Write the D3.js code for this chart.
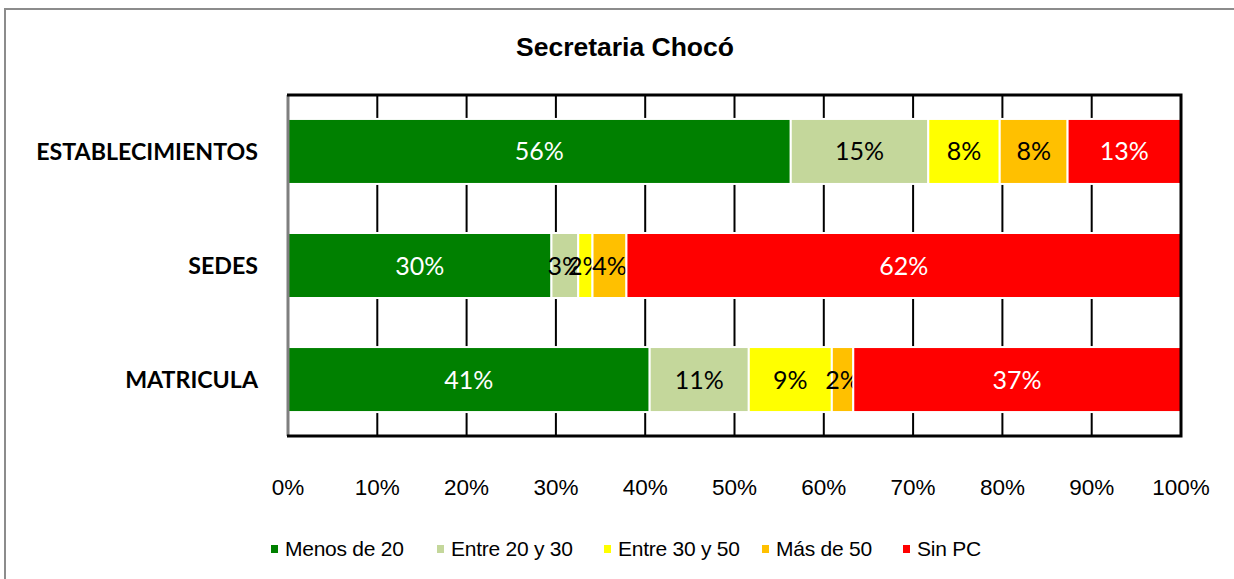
<!DOCTYPE html>
<html>
<head>
<meta charset="utf-8">
<script src="https://cdn.jsdelivr.net/npm/d3@7"></script>
<style>
  body { margin: 0; background: #fff; }
  svg { display: block; }
</style>
</head>
<body>
<div id="chart"></div>
<script>
// chart data
const categories = ["ESTABLECIMIENTOS", "SEDES", "MATRICULA"];
const seriesNames = ["Menos de 20", "Entre 20 y 30", "Entre 30 y 50", "Más de 50", "Sin PC"];
const menos20 = [56.3, 29.5, 40.5];
const entre20y30 = [15.4, 3.0, 11.1];
const entre30y50 = [8.0, 1.6, 9.3];
const mas50 = [7.6, 3.8, 2.4];
const sinPC = [12.7, 62.1, 36.7];
const xTicks = [0, 10, 20, 30, 40, 50, 60, 70, 80, 90, 100];

const colors = ["#008000", "#c4d79b", "#ffff00", "#ffc000", "#ff0000"];
const labelColors = ["#fff", "#000", "#000", "#000", "#fff"];

const width = 1234;
const height = 579;
const margin = {left: 288, right: 53, top: 95, bottom: 143};

const svg = d3.select("#chart")
  .append("svg")
  .attr("width", width)
  .attr("height", height);

// outer frame
svg.append("rect")
  .attr("x", 5).attr("y", 9)
  .attr("width", width + 10).attr("height", height + 10)
  .attr("fill", "none")
  .attr("stroke", "#8c8c8c")
  .attr("stroke-width", 2);

// build a table for the stack
const table = categories.map((c, i) => ({
  cat: c,
  "Menos de 20": menos20[i],
  "Entre 20 y 30": entre20y30[i],
  "Entre 30 y 50": entre30y50[i],
  "Más de 50": mas50[i],
  "Sin PC": sinPC[i]
}));

const stack = d3.stack().keys(seriesNames)(table);

const xScale = d3.scaleLinear()
  .domain([0, 100])
  .range([margin.left, width - margin.right]);

const yScale = d3.scaleBand()
  .domain(categories)
  .range([margin.top, height - margin.bottom])
  .paddingInner(0.43)
  .paddingOuter(0.21);

const plotTop = margin.top;
const plotBottom = height - margin.bottom;

// vertical gridlines
svg.append("g")
  .selectAll("line")
  .data(xTicks)
  .enter()
  .append("line")
    .attr("x1", d => xScale(d))
    .attr("x2", d => xScale(d))
    .attr("y1", plotTop)
    .attr("y2", plotBottom)
    .attr("stroke", "#000")
    .attr("stroke-width", 2);

// bars
const groups = svg.append("g")
  .selectAll("g")
  .data(stack)
  .enter()
  .append("g")
    .attr("fill", (d, i) => colors[i]);

groups.selectAll("rect")
  .data(d => d)
  .enter()
  .append("rect")
    .attr("x", d => xScale(d[0]))
    .attr("y", d => yScale(d.data.cat))
    .attr("width", d => xScale(d[1]) - xScale(d[0]))
    .attr("height", yScale.bandwidth())
    .attr("stroke", "#fff")
    .attr("stroke-width", 2);

// value labels
const fmt = d3.format(".0f");
groups.each(function(s, si) {
  d3.select(this).selectAll("text")
    .data(s)
    .enter()
    .append("text")
      .attr("x", d => (xScale(d[0]) + xScale(d[1])) / 2)
      .attr("y", d => yScale(d.data.cat) + yScale.bandwidth() / 2)
      .attr("dy", "0.36em")
      .attr("text-anchor", "middle")
      .attr("fill", labelColors[si])
      .attr("font-family", "Lato, 'Noto Sans', sans-serif")
      .attr("font-size", "25px")
      .text(d => fmt(d[1] - d[0]) + "%");
});

// plot frame
const frame = svg.append("g").attr("fill", "none");
frame.append("line")
  .attr("x1", margin.left).attr("x2", margin.left)
  .attr("y1", plotTop).attr("y2", plotBottom)
  .attr("stroke", "#7f7f7f").attr("stroke-width", 3);
frame.append("path")
  .attr("d", `M${margin.left - 1},${plotTop}H${width - margin.right}V${plotBottom}H${margin.left - 1}`)
  .attr("stroke", "#000").attr("stroke-width", 3);

// x axis labels
svg.append("g")
  .selectAll("text")
  .data(xTicks)
  .enter()
  .append("text")
    .attr("x", d => xScale(d))
    .attr("y", 495)
    .attr("text-anchor", "middle")
    .attr("font-family", "'Liberation Sans', Arial, sans-serif")
    .attr("font-size", "22.5px")
    .text(d => d + "%");

// category labels
svg.append("g")
  .selectAll("text")
  .data(categories)
  .enter()
  .append("text")
    .attr("x", 258)
    .attr("y", d => yScale(d) + yScale.bandwidth() / 2)
    .attr("dy", "0.36em")
    .attr("text-anchor", "end")
    .attr("font-family", "Lato, 'Noto Sans', sans-serif")
    .attr("font-weight", "bold")
    .attr("font-size", "23.2px")
    .text(d => d);

// title
svg.append("text")
  .attr("x", 625)
  .attr("y", 56)
  .attr("text-anchor", "middle")
  .attr("font-family", "'Liberation Sans', Arial, sans-serif")
  .attr("font-weight", "bold")
  .attr("font-size", "26.5px")
  .text("Secretaria Chocó");

// legend
const legendX = [271, 437, 604, 762, 903];
const legend = svg.append("g")
  .selectAll("g")
  .data(seriesNames)
  .enter()
  .append("g")
    .attr("transform", (d, i) => `translate(${legendX[i]}, 549)`);

legend.append("rect")
  .attr("x", 0).attr("y", -4)
  .attr("width", 7).attr("height", 8)
  .attr("fill", (d, i) => colors[i]);

legend.append("text")
  .attr("x", 14)
  .attr("dy", "0.35em")
  .attr("font-family", "'Liberation Sans', Arial, sans-serif")
  .attr("font-size", "21px")
  .attr("letter-spacing", "-0.25px")
  .text(d => d);
</script>
</body>
</html>
